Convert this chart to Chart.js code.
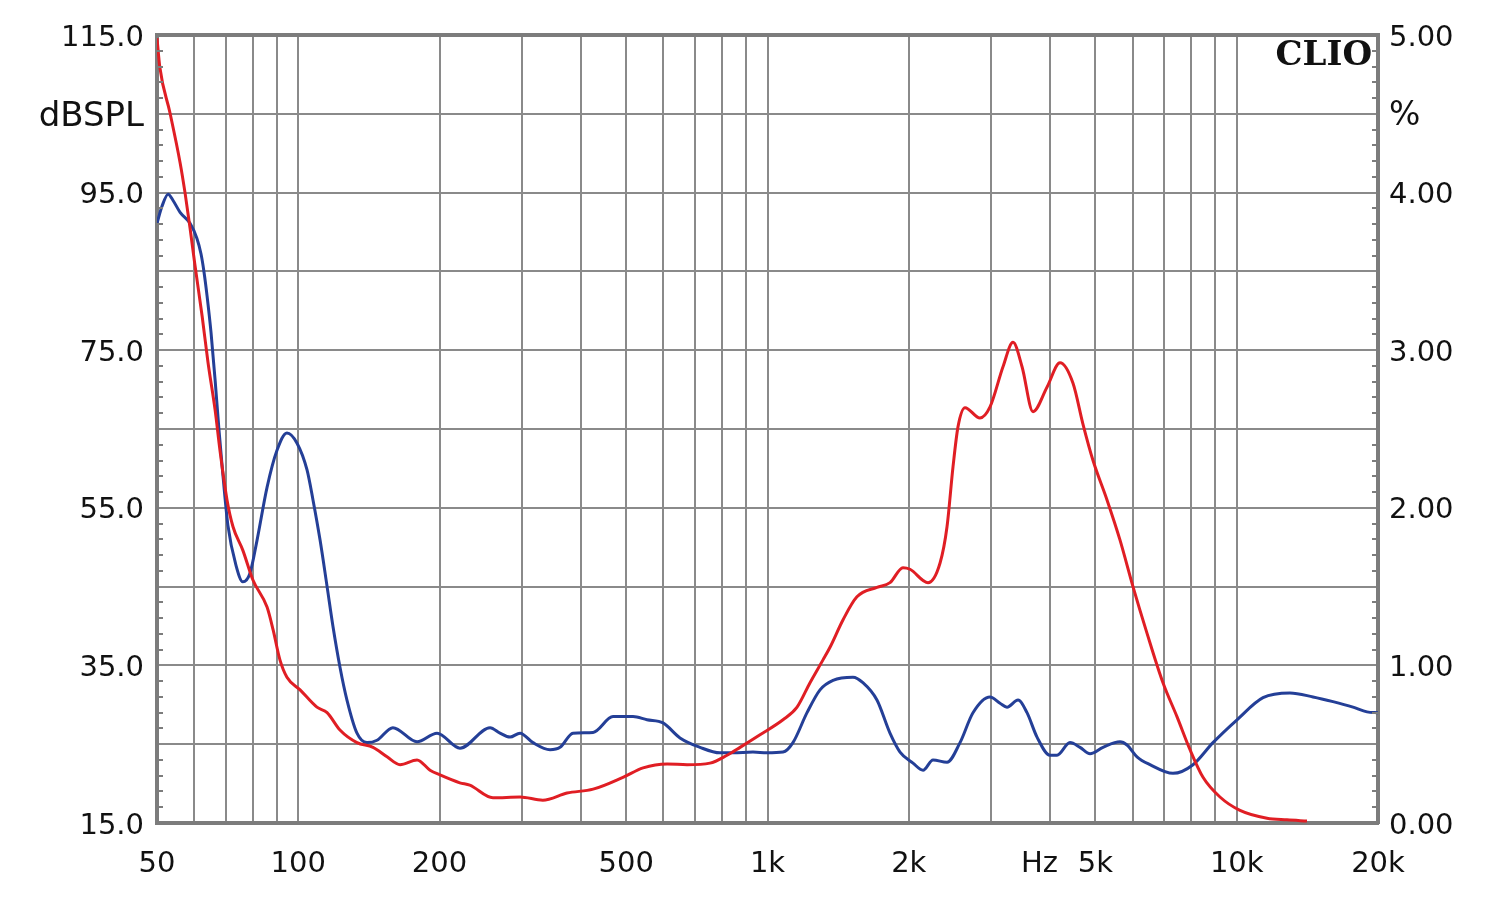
<!DOCTYPE html>
<html>
<head>
<meta charset="utf-8">
<script src="https://cdn.jsdelivr.net/npm/chart.js@4.4.1/dist/chart.umd.min.js"></script>
<style>
html,body{margin:0;padding:0;background:#ffffff;}
#wrap{width:1500px;height:899px;}
</style>
</head>
<body>
<div id="wrap"><canvas id="c" width="1500" height="899"></canvas></div>
<script>
// ---- data (frequency in Hz, level in dBSPL units of the left axis) ----
const redFreq = [50,50.7,53.3,56.0,57.4,58.8,60.2,62.4,64.2,66.5,
  68.1,70.5,72.6,76.2,80.1,85.8,88.4,91.4,94.6,100.9,
  109.6,115.2,122.7,133.4,144.3,154.6,164.8,179.1,190.9,200.5,
  221,232,260,297,332,374,425,492,543,611,
  674,754,820,874,964,1079,1156,1232,1313,1359,
  1449,1551,1711,1824,1944,2012,2198,2332,2413,2485,
  2547,2636,2837,2980,3176,3336,3487,3680,3941,4201,
  4478,4703,4940,5291,5640,6010,6437,6963,7458,7951,
  8475,9210,10161,11601,12796,14115];
const redLevel = [114.6,110.9,105.1,98.8,94.9,90.5,85.9,79.3,73.5,67.4,
  62.3,56.0,52.6,49.6,45.8,42.4,39.5,35.7,33.5,31.9,
  29.7,29.0,26.8,25.2,24.6,23.4,22.4,23.0,21.7,21.1,
  20.1,19.8,18.2,18.3,17.9,18.8,19.3,20.8,22.0,22.5,
  22.4,22.6,23.6,24.6,26.2,28.1,29.7,32.8,35.7,37.3,
  40.8,43.7,44.9,45.5,47.4,47.2,45.5,48.0,52.6,60.2,
  65.3,67.7,66.4,67.8,72.9,76.0,72.9,67.2,70.3,73.4,
  70.8,65.6,61.0,56.0,50.9,45.0,39.1,32.8,28.5,24.3,
  20.8,18.3,16.6,15.6,15.4,15.25];

const blueFreq = [50,51.2,52.8,54.1,56.0,58.8,60.8,62.06,62.98,63.92,
  65.19,66.5,67.77,68.8,70.8,73.67,76.2,78.9,81.7,85.8,
  90.1,94.6,99.4,104.4,107.5,111.3,115.2,118.6,122.7,127.0,
  133.4,140.1,147.2,159.1,179.1,197.6,221.1,256.3,269.1,282.7,
  296.9,316.4,344.0,361.3,385.0,424.9,468.6,516.9,553.6,598.9,
  650.9,718.1,792.1,844.2,931.3,997.6,1079,1133,1214,1294,
  1379,1521,1597,1711,1824,1916,2042,2145,2253,2413,
  2572,2741,2980,3130,3239,3419,3573,3753,4000,4140,
  4412,4634,4868,5188,5640,5836,6130,6534,7314,8069,
  8899,10013,11376,12986,14537,16037,17689,18950,20000];
const blueLevel = [91.1,93.2,94.8,94.0,92.5,91.1,89.2,87.2,84.9,81.9,
  77.2,71.2,64.9,60.4,52.8,47.7,45.6,46.7,50.9,57.6,
  62.3,64.5,63.2,59.8,56.0,50.9,45.0,39.9,34.8,30.6,
  26.4,25.2,25.5,27.1,25.3,26.4,24.5,27.1,26.4,25.9,
  26.4,25.2,24.3,24.6,26.4,26.5,28.5,28.5,28.1,27.7,
  25.8,24.6,23.9,23.9,24.0,23.9,24.0,25.2,29.0,31.9,
  33.1,33.5,32.8,30.6,26.4,24.0,22.6,21.7,23.0,22.7,
  25.2,29.0,31.0,30.2,29.7,30.6,29.0,25.9,23.6,23.6,
  25.2,24.6,23.8,24.6,25.3,24.9,23.4,22.4,21.3,22.4,
  25.2,28.1,30.9,31.5,31.0,30.4,29.7,29.1,29.0];

// ---- ticks ----
const leftTickValues = [15,25,35,45,55,65,75,85,95,105,115];
const leftTickLabels = ['15.0','','35.0','','55.0','','75.0','','95.0','dBSPL','115.0'];
const rightTickValues = [0,0.5,1,1.5,2,2.5,3,3.5,4,4.5,5];
const rightTickLabels = ['0.00','','1.00','','2.00','','3.00','','4.00','%','5.00'];
const minorTickValues = [17,19,21,23,27,29,31,33,37,39,41,43,47,49,51,53,57,59,61,63,67,69,71,73,77,79,81,83,87,89,91,93,97,99,101,103,107,109,111,113];
const xGridValues = [60,70,80,90,100,200,300,400,500,600,700,800,900,1000,
  2000,3000,4000,5000,6000,7000,8000,9000,10000];
const xLabelValues = [50,100,200,500,1000,2000,3800,5000,10000,20000];
const xLabelTexts = ['50','100','200','500','1k','2k','Hz','5k','10k','20k'];

const GRID = '#8a8a8a';
const BORDER = '#7c7c7c';
const TEXT = '#111111';
const FONT = 'DejaVu Sans';

const overlay = {
  id: 'overlay',
  afterDraw(chart) {
    const {ctx, chartArea: a, scales} = chart;
    ctx.save();
    ctx.strokeStyle = BORDER;
    ctx.lineWidth = 2;
    ctx.beginPath();
    for (const v of minorTickValues) {
      const y = Math.round(scales.y.getPixelForValue(v));
      ctx.moveTo(a.left, y); ctx.lineTo(a.left + 6, y);
      ctx.moveTo(a.right - 6, y); ctx.lineTo(a.right, y);
    }
    ctx.stroke();
    ctx.font = 'bold 34px "DejaVu Serif"';
    ctx.textAlign = 'right';
    ctx.textBaseline = 'alphabetic';
    ctx.fillStyle = TEXT;
    ctx.fillText('CLIO', a.right - 6, 65);
    ctx.restore();
  }
};

new Chart(document.getElementById('c'), {
  type: 'line',
  data: {
    datasets: [
      {
        label: 'red',
        data: redFreq.map((f, i) => ({x: f, y: redLevel[i]})),
        borderColor: '#e01e24',
        borderWidth: 3,
        pointRadius: 0,
        cubicInterpolationMode: 'monotone',
        fill: false,
        yAxisID: 'y'
      },
      {
        label: 'blue',
        data: blueFreq.map((f, i) => ({x: f, y: blueLevel[i]})),
        borderColor: '#243f97',
        borderWidth: 3,
        pointRadius: 0,
        cubicInterpolationMode: 'monotone',
        fill: false,
        yAxisID: 'y'
      }
    ]
  },
  options: {
    responsive: false,
    animation: false,
    events: [],
    layout: {padding: {top: 35, left: 0, right: 0, bottom: 0}},
    plugins: {legend: {display: false}, tooltip: {enabled: false}},
    scales: {
      x: {
        type: 'logarithmic',
        position: 'bottom',
        min: 50,
        max: 20000,
        afterBuildTicks: s => {
          const vals = Array.from(new Set([50, ...xGridValues, ...xLabelValues, 20000])).sort((a, b) => a - b);
          s.ticks = vals.map(v => ({value: v}));
        },
        afterFit: s => { s.height = 76; },
        ticks: {
          autoSkip: false, maxRotation: 0, minRotation: 0, padding: 24,
          color: TEXT,
          font: {family: FONT, size: 29},
          callback: v => { const i = xLabelValues.indexOf(v); return i >= 0 ? xLabelTexts[i] : ''; }
        },
        grid: {
          color: ctx => (ctx.tick && xGridValues.includes(ctx.tick.value)) ? GRID : 'rgba(0,0,0,0)',
          lineWidth: 2,
          drawTicks: false
        },
        border: {color: BORDER, width: 4}
      },
      y: {
        type: 'linear',
        position: 'left',
        min: 15,
        max: 115,
        afterBuildTicks: s => { s.ticks = leftTickValues.map(v => ({value: v})); },
        afterFit: s => { s.width = 157; },
        ticks: {
          padding: 13,
          labelOffset: 3,
          color: TEXT,
          font: ctx => ({family: FONT, size: (ctx.tick && ctx.tick.value === 105) ? 34 : 29}),
          callback: v => { const i = leftTickValues.indexOf(v); return i >= 0 ? leftTickLabels[i] : ''; }
        },
        grid: {
          color: ctx => (ctx.tick && ctx.tick.value === 115) ? BORDER : GRID,
          lineWidth: ctx => (ctx.tick && ctx.tick.value === 115) ? 4 : 2,
          drawTicks: false
        },
        border: {color: BORDER, width: 4}
      },
      y2: {
        type: 'linear',
        position: 'right',
        min: 0,
        max: 5,
        afterBuildTicks: s => { s.ticks = rightTickValues.map(v => ({value: v})); },
        afterFit: s => { s.width = 122; },
        ticks: {
          padding: 11,
          labelOffset: 3,
          color: TEXT,
          font: ctx => ({family: FONT, size: (ctx.tick && ctx.tick.value === 4.5) ? 33 : 29}),
          callback: v => { const i = rightTickValues.indexOf(v); return i >= 0 ? rightTickLabels[i] : ''; }
        },
        grid: {drawOnChartArea: false, drawTicks: false},
        border: {color: BORDER, width: 4}
      }
    }
  },
  plugins: [overlay]
});
</script>
</body>
</html>
